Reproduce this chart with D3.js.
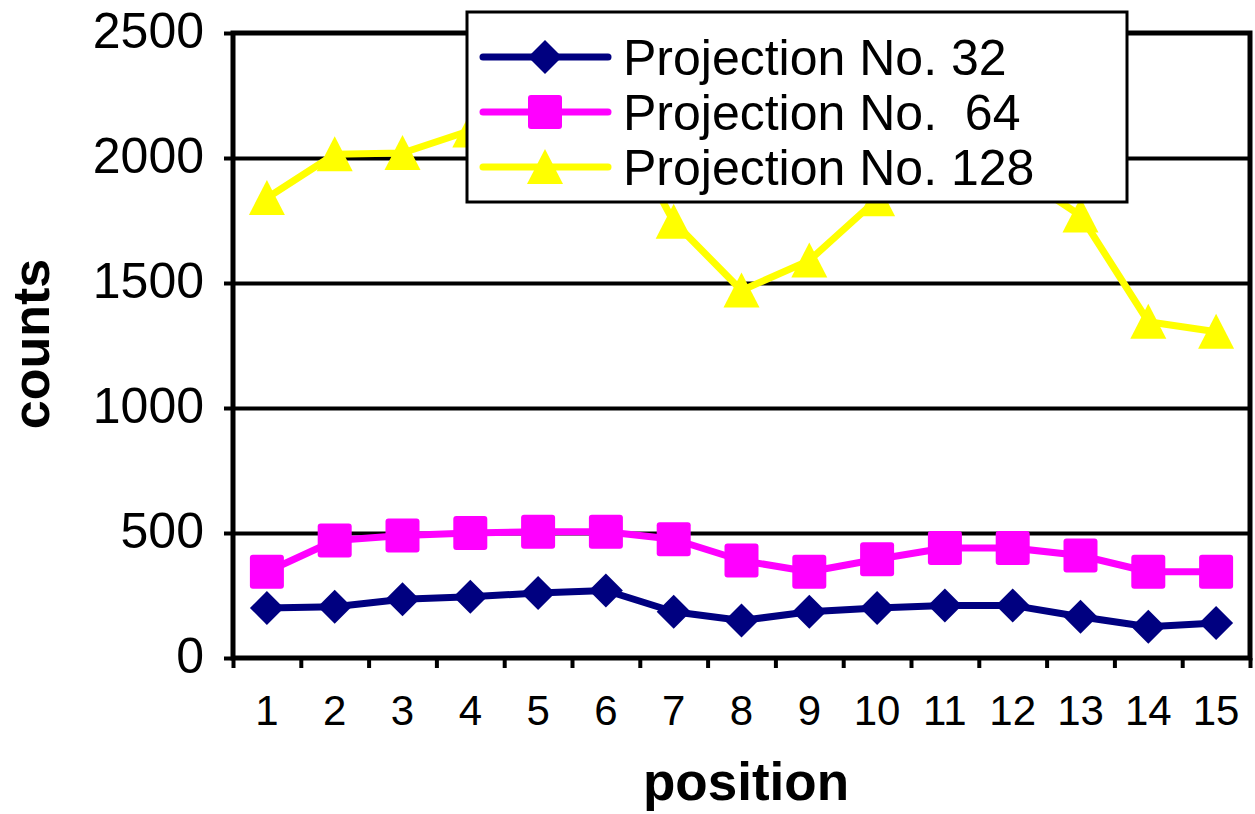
<!DOCTYPE html>
<html>
<head>
<meta charset="utf-8">
<script src="https://cdn.jsdelivr.net/npm/d3@7"></script>
<style>
  body { margin: 0; background: #fff; }
  #chart text { font-family: "Liberation Sans", Arial, Helvetica, sans-serif; fill: #000; }
</style>
</head>
<body>
<div id="chart"></div>
<script>
// data
const positions = ["1", "2", "3", "4", "5", "6", "7", "8", "9", "10", "11", "12", "13", "14", "15"];
const proj32 = [200, 205, 235, 245, 260, 270, 185, 150, 185, 200, 210, 210, 165, 125, 140];
const proj64 = [345, 470, 490, 500, 505, 505, 475, 390, 345, 395, 440, 440, 410, 345, 345];
const proj128 = [1840, 2015, 2020, 2110, 2200, 2250, 1745, 1470, 1590, 1835, 1980, 1950, 1770, 1345, 1305];
const yTicks = [0, 500, 1000, 1500, 2000, 2500];
const seriesNames = ["Projection No. 32", "Projection No.  64", "Projection No. 128"];

const series = [
  { name: seriesNames[0], values: proj32, color: "#000080", marker: "diamond" },
  { name: seriesNames[1], values: proj64, color: "#FF00FF", marker: "square" },
  { name: seriesNames[2], values: proj128, color: "#FFFF00", marker: "triangle" },
];

const margin = { top: 33, right: 5, bottom: 156, left: 233 };
const width = 1255 - margin.left - margin.right;
const height = 814 - margin.top - margin.bottom;

const svg = d3
  .select("#chart")
  .append("svg")
  .attr("width", 1255)
  .attr("height", 814);

const g = svg.append("g").attr("transform", `translate(${margin.left},${margin.top})`);

// scales
const x = d3.scaleBand().domain(positions).range([0, width]);
const xEdge = d3.scaleLinear().domain([0, positions.length]).range([0, width]);
const y = d3.scaleLinear().domain([0, 2500]).range([height, 0]);

// grid lines
g.append("g")
  .call(d3.axisLeft(y).tickValues(yTicks.slice(1, -1)).tickSize(-width).tickFormat(""))
  .call((a) => a.select(".domain").remove())
  .selectAll("line")
  .attr("stroke", "#000")
  .attr("stroke-width", 4);

// y axis
const yAxis = g
  .append("g")
  .call(d3.axisLeft(y).tickValues(yTicks).tickSize(9).tickPadding(20).tickFormat(d3.format("d")));
yAxis.select(".domain").remove();
yAxis.selectAll("line").attr("stroke", "#000").attr("stroke-width", 4);
yAxis.selectAll("text").style("font-size", "50px").attr("dy", "0.28em");

// x axis tick marks at category edges
const xTickAxis = g
  .append("g")
  .attr("transform", `translate(0,${height})`)
  .call(d3.axisBottom(xEdge).tickValues(d3.range(positions.length + 1)).tickSize(10).tickFormat(""));
xTickAxis.select(".domain").remove();
xTickAxis.selectAll("line").attr("stroke", "#000").attr("stroke-width", 4);

// x axis labels at category centres
const xAxis = g
  .append("g")
  .attr("transform", `translate(0,${height})`)
  .call(d3.axisBottom(x).tickSize(0).tickPadding(37));
xAxis.select(".domain").remove();
xAxis.selectAll("text").style("font-size", "42px");

// plot frame
g.append("rect")
  .attr("x", 0)
  .attr("y", 0)
  .attr("width", width)
  .attr("height", height)
  .attr("fill", "none")
  .attr("stroke", "#000")
  .attr("stroke-width", 5);

// marker drawing
const drawMarker = (sel, type, color) => {
  if (type === "diamond") {
    sel.append("path").attr("d", "M0,-17L17,0L0,17L-17,0Z").attr("fill", color);
  } else if (type === "square") {
    sel.append("rect").attr("x", -17).attr("y", -17).attr("width", 34).attr("height", 34).attr("rx", 3).attr("fill", color);
  } else {
    sel.append("path").attr("d", "M0,-18L18,17L-18,17Z").attr("fill", color);
  }
};

const line = d3
  .line()
  .x((d, i) => x(positions[i]) + x.bandwidth() / 2)
  .y((d) => y(d));

series.forEach((s) => {
  g.append("path")
    .datum(s.values)
    .attr("fill", "none")
    .attr("stroke", s.color)
    .attr("stroke-width", 7)
    .attr("stroke-linejoin", "round")
    .attr("d", line);

  g.selectAll(null)
    .data(s.values)
    .enter()
    .append("g")
    .attr("transform", (d, i) => `translate(${x(positions[i]) + x.bandwidth() / 2},${y(d)})`)
    .each(function () {
      drawMarker(d3.select(this), s.marker, s.color);
    });
});

// legend
const legend = svg.append("g").attr("transform", "translate(467,12)");

legend
  .append("rect")
  .attr("width", 660)
  .attr("height", 190)
  .attr("fill", "#fff")
  .attr("stroke", "#000")
  .attr("stroke-width", 3);

series.forEach((s, i) => {
  const row = legend.append("g").attr("transform", `translate(0,${45 + i * 55})`);
  row
    .append("line")
    .attr("x1", 16)
    .attr("x2", 141)
    .attr("stroke", s.color)
    .attr("stroke-width", 7)
    .attr("stroke-linecap", "round");
  const m = row.append("g").attr("transform", "translate(78,0)");
  drawMarker(m, s.marker, s.color);
  row
    .append("text")
    .attr("x", 156)
    .attr("y", 18)
    .attr("xml:space", "preserve")
    .style("white-space", "pre")
    .style("font-size", "50px")
    .text(s.name);
});

// axis titles
svg
  .append("text")
  .attr("transform", "translate(49,344) rotate(-90)")
  .attr("text-anchor", "middle")
  .style("font-size", "52px")
  .style("font-weight", "bold")
  .text("counts");

svg
  .append("text")
  .attr("x", 746)
  .attr("y", 800)
  .attr("text-anchor", "middle")
  .style("font-size", "53px")
  .style("font-weight", "bold")
  .text("position");
</script>
</body>
</html>
